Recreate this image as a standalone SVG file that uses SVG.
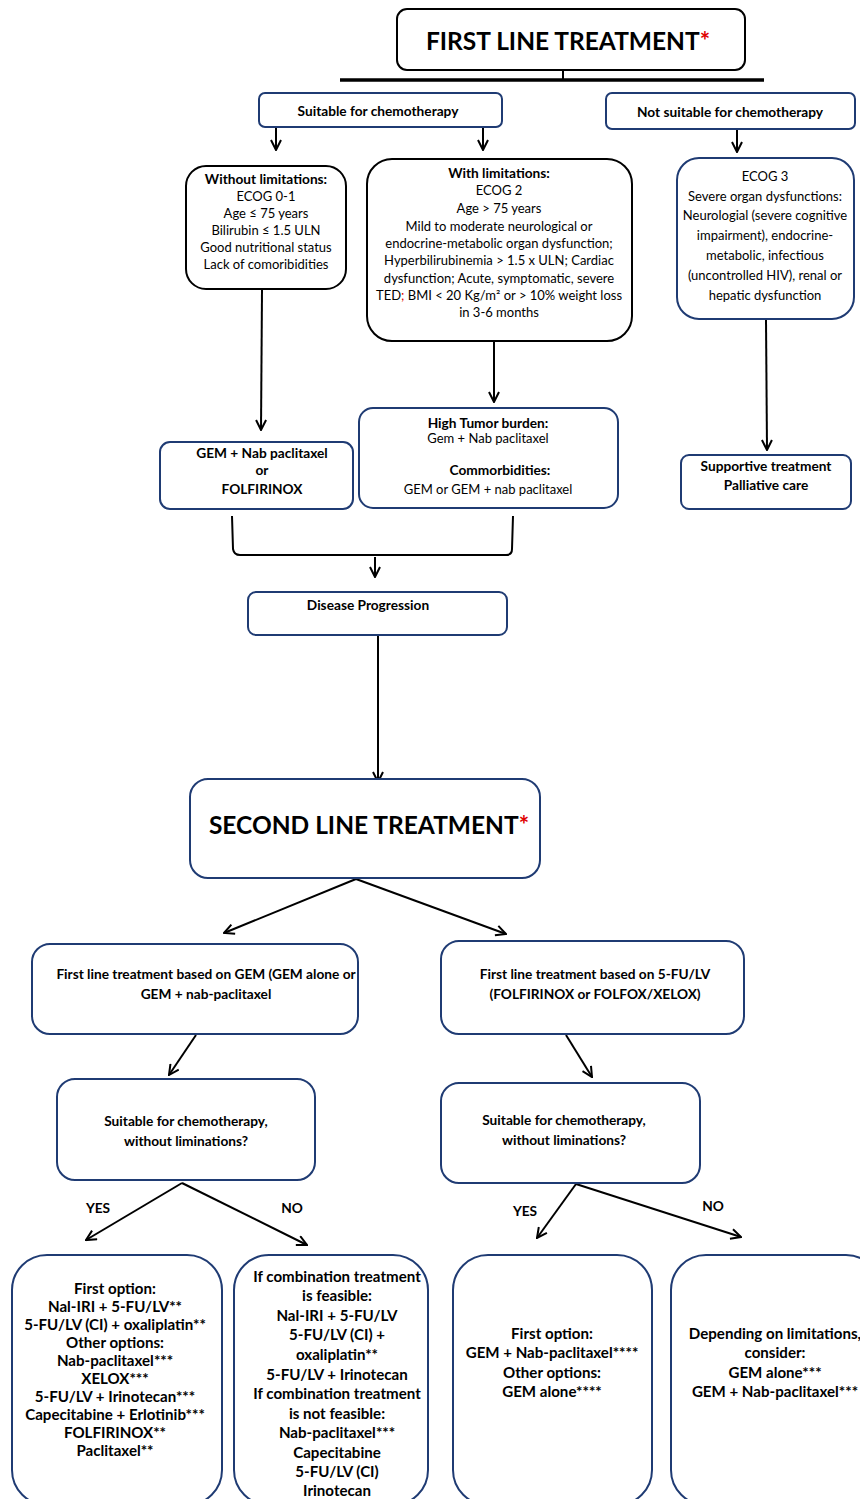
<svg xmlns="http://www.w3.org/2000/svg" width="860" height="1499" viewBox="0 0 860 1499">
<defs>
<style>
text{font-family:Lato,"Liberation Sans",sans-serif;fill:#000;text-anchor:middle}
.s{font-size:13px}
.b{font-weight:bold;font-size:13.7px}
.m{font-size:15.1px;font-weight:bold}
.t{font-size:24.5px;font-weight:bold}
.bx{fill:#fff;stroke:#1f3b73;stroke-width:2}
.bk{fill:#fff;stroke:#000;stroke-width:2}
.c{fill:none;stroke:#000;stroke-width:2}
.r{fill:#e00000}
</style>
<marker id="a" viewBox="0 0 12 12" refX="11" refY="6" markerWidth="12" markerHeight="12" markerUnits="userSpaceOnUse" orient="auto">
<path d="M1,1 L11,6 L1,11" fill="none" stroke="#000" stroke-width="2"/>
</marker>
</defs>
<rect width="860" height="1499" fill="#fff"/>
<g id="connectors">
<line x1="563" y1="70" x2="563" y2="80" class="c"/>
<line x1="340" y1="80" x2="764" y2="80" stroke="#000" stroke-width="3.5"/>
<line x1="276" y1="128" x2="276" y2="150" class="c" marker-end="url(#a)"/>
<line x1="483" y1="128" x2="483" y2="150" class="c" marker-end="url(#a)"/>
<line x1="737" y1="130" x2="737" y2="152" class="c" marker-end="url(#a)"/>
<line x1="262" y1="290" x2="261" y2="430" class="c" marker-end="url(#a)"/>
<line x1="494" y1="342" x2="494" y2="402" class="c" marker-end="url(#a)"/>
<line x1="766" y1="320" x2="767" y2="450" class="c" marker-end="url(#a)"/>
<path d="M232,516 L233,549 Q234,555 240,555 L506,555 Q512,555 512,549 L513,516" class="c"/>
<line x1="375" y1="557" x2="375" y2="577" class="c" marker-end="url(#a)"/>
<line x1="378" y1="636" x2="378" y2="782" class="c" marker-end="url(#a)"/>
<line x1="356" y1="879" x2="224" y2="933" class="c" marker-end="url(#a)"/>
<line x1="356" y1="879" x2="506" y2="934" class="c" marker-end="url(#a)"/>
<line x1="196" y1="1035" x2="169" y2="1075" class="c" marker-end="url(#a)"/>
<line x1="566" y1="1035" x2="592" y2="1077" class="c" marker-end="url(#a)"/>
<line x1="182" y1="1183" x2="86" y2="1240" class="c" marker-end="url(#a)"/>
<line x1="182" y1="1183" x2="307" y2="1245" class="c" marker-end="url(#a)"/>
<line x1="576" y1="1184" x2="537" y2="1238" class="c" marker-end="url(#a)"/>
<line x1="576" y1="1184" x2="741" y2="1237" class="c" marker-end="url(#a)"/>
<text x="98" y="1213" class="b">YES</text>
<text x="292" y="1213" class="b">NO</text>
<text x="525" y="1216" class="b">YES</text>
<text x="713" y="1211" class="b">NO</text>
</g>
<g id="first-line">
<rect x="397" y="9" width="348" height="61" rx="10" class="bk"/>
<text x="568" y="50" class="t">FIRST LINE TREATMENT<tspan class="r">*</tspan></text>
</g>
<g id="suitable">
<rect x="259" y="93" width="243" height="34" rx="6" class="bx"/>
<text x="378" y="116" class="b">Suitable for chemotherapy</text>
</g>
<g id="not-suitable">
<rect x="606" y="93" width="249" height="36" rx="6" class="bx"/>
<text x="730" y="117" class="b">Not suitable for chemotherapy</text>
</g>
<g id="without-limitations">
<rect x="186" y="166" width="160" height="123" rx="20" class="bk"/>
<text x="266" class="s"><tspan x="266" y="184" class="b">Without limitations:</tspan><tspan x="266" y="201">ECOG 0-1</tspan><tspan x="266" y="218">Age ≤ 75 years</tspan><tspan x="266" y="235">Bilirubin ≤ 1.5 ULN</tspan><tspan x="266" y="252">Good nutritional status</tspan><tspan x="266" y="269">Lack of comoribidities</tspan></text>
</g>
<g id="with-limitations">
<rect x="367" y="159" width="265" height="182" rx="25" class="bk"/>
<text x="499" class="s"><tspan x="499" y="178" class="b">With limitations:</tspan><tspan x="499" y="195">ECOG 2</tspan><tspan x="499" y="213">Age &gt; 75 years</tspan><tspan x="499" y="231">Mild to moderate neurological or</tspan><tspan x="499" y="248">endocrine-metabolic organ dysfunction;</tspan><tspan x="499" y="265">Hyperbilirubinemia &gt; 1.5 x ULN; Cardiac</tspan><tspan x="499" y="283">dysfunction; Acute, symptomatic, severe</tspan><tspan x="499" y="300">TED<tspan class="r">;</tspan> BMI  &lt; 20 Kg/m² or &gt;  10% weight loss</tspan><tspan x="499" y="317">in 3-6 months</tspan></text>
</g>
<g id="ecog3">
<rect x="677" y="158" width="177" height="161" rx="22" class="bx"/>
<text x="765" class="s"><tspan x="765" y="181">ECOG 3</tspan><tspan x="765" y="201">Severe organ dysfunctions:</tspan><tspan x="765" y="220">Neurologial (severe cognitive</tspan><tspan x="765" y="240">impairment), endocrine-</tspan><tspan x="765" y="260">metabolic, infectious</tspan><tspan x="765" y="280">(uncontrolled HIV), renal or</tspan><tspan x="765" y="300">hepatic dysfunction</tspan></text>
</g>
<g id="gem-nab">
<rect x="160" y="442" width="193" height="67" rx="10" class="bx"/>
<text x="262" class="b"><tspan x="262" y="458">GEM + Nab paclitaxel</tspan><tspan x="262" y="475">or</tspan><tspan x="262" y="494">FOLFIRINOX</tspan></text>
</g>
<g id="high-tumor">
<rect x="359" y="408" width="259" height="100" rx="14" class="bx"/>
<text x="488" class="s"><tspan x="488" y="428" class="b">High Tumor burden:</tspan><tspan x="488" y="443">Gem + Nab paclitaxel</tspan><tspan x="500" y="475" class="b">Commorbidities:</tspan><tspan x="488" y="494">GEM or GEM + nab paclitaxel</tspan></text>
</g>
<g id="supportive">
<rect x="681" y="455" width="170" height="54" rx="8" class="bx"/>
<text x="766" class="b"><tspan x="766" y="471">Supportive treatment</tspan><tspan x="766" y="490">Palliative care</tspan></text>
</g>
<g id="progression">
<rect x="248" y="592" width="259" height="43" rx="8" class="bx"/>
<text x="368" y="610" class="b">Disease Progression</text>
</g>
<g id="second-line">
<rect x="190" y="779" width="350" height="99" rx="18" class="bx"/>
<text x="369" y="834" class="t">SECOND LINE TREATMENT<tspan class="r">*</tspan></text>
</g>
<g id="gem-based">
<rect x="32" y="944" width="326" height="90" rx="18" class="bx"/>
<text x="206" class="b"><tspan x="206" y="979">First line treatment based on GEM (GEM alone or</tspan><tspan x="206" y="999">GEM + nab-paclitaxel</tspan></text>
</g>
<g id="fu-based">
<rect x="441" y="941" width="303" height="93" rx="18" class="bx"/>
<text x="595" class="b"><tspan x="595" y="979">First line treatment based on 5-FU/LV</tspan><tspan x="595" y="999">(FOLFIRINOX or FOLFOX/XELOX)</tspan></text>
</g>
<g id="suitable-left">
<rect x="57" y="1079" width="258" height="101" rx="18" class="bx"/>
<text x="186" class="b"><tspan x="186" y="1126">Suitable for chemotherapy,</tspan><tspan x="186" y="1146">without liminations?</tspan></text>
</g>
<g id="suitable-right">
<rect x="441" y="1083" width="259" height="100" rx="18" class="bx"/>
<text x="564" class="b"><tspan x="564" y="1125">Suitable for chemotherapy,</tspan><tspan x="564" y="1145">without liminations?</tspan></text>
</g>
<g id="opt-gem-yes">
<rect x="12" y="1255" width="210" height="250" rx="35" class="bx"/>
<text x="115" class="m"><tspan x="115" y="1294">First option:</tspan><tspan x="115" y="1312">Nal-IRI + 5-FU/LV**</tspan><tspan x="115" y="1330">5-FU/LV (CI) + oxaliplatin**</tspan><tspan x="115" y="1348">Other options:</tspan><tspan x="115" y="1366">Nab-paclitaxel***</tspan><tspan x="115" y="1384">XELOX***</tspan><tspan x="115" y="1402">5-FU/LV + Irinotecan***</tspan><tspan x="115" y="1420">Capecitabine + Erlotinib***</tspan><tspan x="115" y="1438">FOLFIRINOX**</tspan><tspan x="115" y="1456">Paclitaxel**</tspan></text>
</g>
<g id="opt-gem-no">
<rect x="234" y="1255" width="194" height="250" rx="35" class="bx"/>
<text x="337" class="m"><tspan x="337" y="1282">If combination treatment</tspan><tspan x="337" y="1301">is feasible:</tspan><tspan x="337" y="1321">Nal-IRI + 5-FU/LV</tspan><tspan x="337" y="1340">5-FU/LV (CI) +</tspan><tspan x="337" y="1360">oxaliplatin**</tspan><tspan x="337" y="1380">5-FU/LV + Irinotecan</tspan><tspan x="337" y="1399">If combination treatment</tspan><tspan x="337" y="1419">is not feasible:</tspan><tspan x="337" y="1438">Nab-paclitaxel***</tspan><tspan x="337" y="1458">Capecitabine</tspan><tspan x="337" y="1477">5-FU/LV (CI)</tspan><tspan x="337" y="1496">Irinotecan</tspan></text>
</g>
<g id="opt-fu-yes">
<rect x="453" y="1255" width="199" height="250" rx="35" class="bx"/>
<text x="552" class="m"><tspan x="552" y="1339">First option:</tspan><tspan x="552" y="1358">GEM + Nab-paclitaxel****</tspan><tspan x="552" y="1378">Other options:</tspan><tspan x="552" y="1397">GEM alone****</tspan></text>
</g>
<g id="opt-fu-no">
<rect x="671" y="1255" width="210" height="250" rx="35" class="bx"/>
<text x="775" class="m"><tspan x="775" y="1339">Depending on limitations,</tspan><tspan x="775" y="1358">consider:</tspan><tspan x="775" y="1378">GEM alone***</tspan><tspan x="775" y="1397">GEM + Nab-paclitaxel***</tspan></text>
</g>
</svg>
